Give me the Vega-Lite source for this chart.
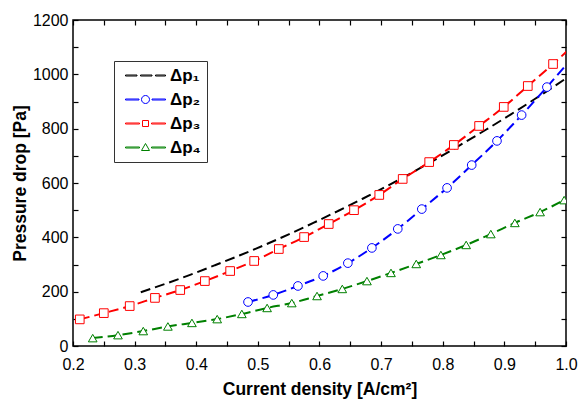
{
  "$schema": "https://vega.github.io/schema/vega-lite/v6.json",
  "width": 493,
  "height": 326,
  "autosize": {"type": "none"},
  "padding": {"left": 73, "top": 20, "right": 15, "bottom": 54},
  "background": "white",
  "config": {
    "font": "Liberation Sans",
    "view": {"stroke": "black", "strokeWidth": 1.5},
    "axis": {
      "labelFont": "Liberation Sans",
      "labelFontSize": 16,
      "labelColor": "black",
      "labelFlush": false,
      "titleFont": "Liberation Sans",
      "titleFontSize": 17.5,
      "titleFontWeight": "bold",
      "titleColor": "black",
      "domain": false,
      "tickColor": "black",
      "tickWidth": 1.2,
      "tickSize": 5,
      "offset": -5,
      "ticks": true,
      "zindex": 1,
      "grid": false,
      "labelOverlap": false
    }
  },
  "data": {
    "values": [
      {"series": "Δp₁", "x": 0.31, "y": 198},
      {"series": "Δp₁", "x": 0.35, "y": 229},
      {"series": "Δp₁", "x": 0.39, "y": 262},
      {"series": "Δp₁", "x": 0.43, "y": 297},
      {"series": "Δp₁", "x": 0.47, "y": 333},
      {"series": "Δp₁", "x": 0.51, "y": 371},
      {"series": "Δp₁", "x": 0.55, "y": 411},
      {"series": "Δp₁", "x": 0.59, "y": 453},
      {"series": "Δp₁", "x": 0.63, "y": 497},
      {"series": "Δp₁", "x": 0.67, "y": 542},
      {"series": "Δp₁", "x": 0.71, "y": 589},
      {"series": "Δp₁", "x": 0.75, "y": 638},
      {"series": "Δp₁", "x": 0.79, "y": 689},
      {"series": "Δp₁", "x": 0.83, "y": 742},
      {"series": "Δp₁", "x": 0.87, "y": 796},
      {"series": "Δp₁", "x": 0.91, "y": 852},
      {"series": "Δp₁", "x": 0.95, "y": 910},
      {"series": "Δp₁", "x": 1.0, "y": 985},
      {"series": "Δp₂", "x": 0.484, "y": 162},
      {"series": "Δp₂", "x": 0.525, "y": 188},
      {"series": "Δp₂", "x": 0.565, "y": 221},
      {"series": "Δp₂", "x": 0.606, "y": 258},
      {"series": "Δp₂", "x": 0.646, "y": 305},
      {"series": "Δp₂", "x": 0.685, "y": 361},
      {"series": "Δp₂", "x": 0.727, "y": 431},
      {"series": "Δp₂", "x": 0.766, "y": 504},
      {"series": "Δp₂", "x": 0.807, "y": 582},
      {"series": "Δp₂", "x": 0.847, "y": 666},
      {"series": "Δp₂", "x": 0.888, "y": 755},
      {"series": "Δp₂", "x": 0.928, "y": 850},
      {"series": "Δp₂", "x": 0.969, "y": 953},
      {"series": "Δp₂", "x": 1.009, "y": 1058},
      {"series": "Δp₃", "x": 0.211, "y": 98},
      {"series": "Δp₃", "x": 0.25, "y": 121},
      {"series": "Δp₃", "x": 0.292, "y": 147},
      {"series": "Δp₃", "x": 0.333, "y": 177},
      {"series": "Δp₃", "x": 0.374, "y": 206},
      {"series": "Δp₃", "x": 0.414, "y": 239},
      {"series": "Δp₃", "x": 0.455, "y": 276},
      {"series": "Δp₃", "x": 0.494, "y": 313},
      {"series": "Δp₃", "x": 0.534, "y": 357},
      {"series": "Δp₃", "x": 0.575, "y": 401},
      {"series": "Δp₃", "x": 0.615, "y": 449},
      {"series": "Δp₃", "x": 0.656, "y": 500},
      {"series": "Δp₃", "x": 0.697, "y": 556},
      {"series": "Δp₃", "x": 0.735, "y": 615},
      {"series": "Δp₃", "x": 0.778, "y": 677},
      {"series": "Δp₃", "x": 0.818, "y": 740},
      {"series": "Δp₃", "x": 0.859, "y": 810},
      {"series": "Δp₃", "x": 0.899, "y": 880},
      {"series": "Δp₃", "x": 0.938, "y": 957},
      {"series": "Δp₃", "x": 0.979, "y": 1038},
      {"series": "Δp₃", "x": 1.019, "y": 1122},
      {"series": "Δp₄", "x": 0.232, "y": 29},
      {"series": "Δp₄", "x": 0.273, "y": 40},
      {"series": "Δp₄", "x": 0.314, "y": 55},
      {"series": "Δp₄", "x": 0.354, "y": 72},
      {"series": "Δp₄", "x": 0.393, "y": 85},
      {"series": "Δp₄", "x": 0.434, "y": 99},
      {"series": "Δp₄", "x": 0.474, "y": 118},
      {"series": "Δp₄", "x": 0.515, "y": 140},
      {"series": "Δp₄", "x": 0.555, "y": 158},
      {"series": "Δp₄", "x": 0.596, "y": 184},
      {"series": "Δp₄", "x": 0.637, "y": 210},
      {"series": "Δp₄", "x": 0.677, "y": 239},
      {"series": "Δp₄", "x": 0.716, "y": 269},
      {"series": "Δp₄", "x": 0.757, "y": 302},
      {"series": "Δp₄", "x": 0.797, "y": 335},
      {"series": "Δp₄", "x": 0.838, "y": 372},
      {"series": "Δp₄", "x": 0.878, "y": 412},
      {"series": "Δp₄", "x": 0.917, "y": 453},
      {"series": "Δp₄", "x": 0.958, "y": 493},
      {"series": "Δp₄", "x": 0.997, "y": 537}
    ]
  },
  "layer": [
    {
      "mark": {"type": "line", "strokeWidth": 2, "strokeDash": [10, 5], "interpolate": "monotone", "clip": true},
      "encoding": {
        "x": {
          "field": "x", "type": "quantitative",
          "scale": {"domain": [0.2, 1.0], "nice": false, "zero": false},
          "axis": {
            "orient": "bottom",
            "title": "Current density [A/cm²]",
            "values": [0.2, 0.25, 0.3, 0.35, 0.4, 0.45, 0.5, 0.55, 0.6, 0.65, 0.7, 0.75, 0.8, 0.85, 0.9, 0.95, 1.0],
            "labelExpr": "abs(datum.value * 10 - round(datum.value * 10)) < 0.01 ? format(datum.value, '.1f') : ''",
            "labelPadding": 10,
            "titlePadding": 8
          }
        },
        "y": {
          "field": "y", "type": "quantitative",
          "scale": {"domain": [0, 1200], "nice": false},
          "axis": {
            "orient": "left",
            "title": "Pressure drop [Pa]",
            "values": [0, 100, 200, 300, 400, 500, 600, 700, 800, 900, 1000, 1100, 1200],
            "labelExpr": "datum.value % 200 == 0 ? format(datum.value, 'd') : ''",
            "labelPadding": 5,
            "titlePadding": 3
          }
        },
        "color": {
          "field": "series", "type": "nominal",
          "scale": {"domain": ["Δp₁", "Δp₂", "Δp₃", "Δp₄"], "range": ["#000000", "#0000FF", "#FF0000", "#008000"]},
          "legend": {
            "title": null,
            "orient": "none",
            "legendX": 41,
            "legendY": 41,
            "strokeColor": "#333333",
            "fillColor": "white",
            "padding": 6,
            "symbolSize": 100,
            "symbolOffset": 17,
            "labelOffset": 16,
            "rowPadding": 6,
            "labelFont": "Liberation Sans",
            "labelFontSize": 17,
            "labelFontWeight": "bold",
            "labelColor": "black",
            "encode": {
              "symbols": {
                "update": {
                  "shape": {"signal": "datum.index == 0 ? 'M-4,-0.1H-1.7V0.1H-4Z M-1,-0.1H1.3V0.1H-1Z M2,-0.1H4V0.1H2Z' : datum.index == 1 ? 'M-4,-0.1H-1.3V0.1H-4Z M1.3,-0.1H4V0.1H1.3Z M0.8,0A0.8,0.8 0 1,1 -0.8,0A0.8,0.8 0 1,1 0.8,0Z' : datum.index == 2 ? 'M-4,-0.1H-1.2V0.1H-4Z M1.2,-0.1H4V0.1H1.2Z M-0.6,-0.6H0.6V0.6H-0.6Z' : 'M-4,-0.1H-1.2V0.1H-4Z M1.2,-0.1H4V0.1H1.2Z M0,-0.8L0.8,0.6H-0.8Z'"},
                  "fill": {"value": "white"},
                  "fillOpacity": {"value": 1},
                  "opacity": {"value": 1},
                  "stroke": {"signal": "datum.index == 0 ? '#000000' : datum.index == 1 ? '#0000FF' : datum.index == 2 ? '#FF0000' : '#008000'"},
                  "strokeWidth": {"value": 1},
                  "strokeDash": {"value": []}
                }
              }
            }
          }
        },
        "detail": {"field": "series"}
      }
    },
    {
      "transform": [{"filter": "datum.series != 'Δp₁'"}],
      "mark": {"type": "point", "filled": false, "fill": "white", "fillOpacity": 1, "opacity": 1, "strokeWidth": 1, "size": 75, "clip": true},
      "encoding": {
        "x": {
          "field": "x", "type": "quantitative",
          "axis": {
            "orient": "top", "title": null, "labels": false,
            "values": [0.2, 0.25, 0.3, 0.35, 0.4, 0.45, 0.5, 0.55, 0.6, 0.65, 0.7, 0.75, 0.8, 0.85, 0.9, 0.95, 1.0]
          }
        },
        "y": {
          "field": "y", "type": "quantitative",
          "axis": {
            "orient": "right", "title": null, "labels": false,
            "values": [0, 100, 200, 300, 400, 500, 600, 700, 800, 900, 1000, 1100, 1200]
          }
        },
        "color": {"field": "series", "type": "nominal"},
        "shape": {
          "field": "series", "type": "nominal",
          "scale": {"domain": ["Δp₂", "Δp₃", "Δp₄"], "range": ["circle", "square", "triangle-up"]},
          "legend": null
        }
      }
    }
  ],
  "resolve": {"axis": {"x": "independent", "y": "independent"}}
}
